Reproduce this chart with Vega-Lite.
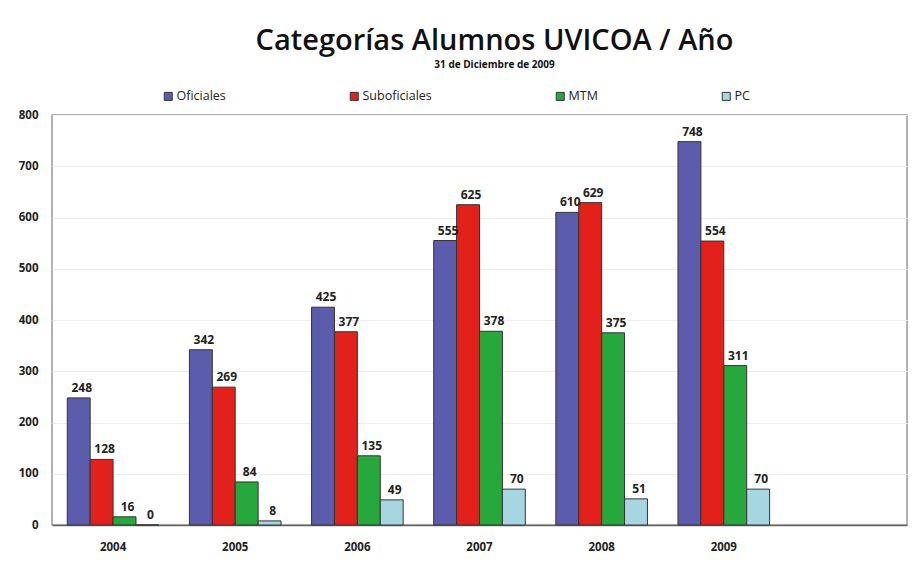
{
  "$schema": "https://vega.github.io/schema/vega-lite/v6.json",
  "width": 855,
  "height": 410,
  "autosize": {"type": "none"},
  "padding": {"left": 52, "top": 115, "right": 12, "bottom": 45},
  "background": "white",
  "title": {
    "text": "Categorías Alumnos UVICOA / Año",
    "subtitle": "31 de Diciembre de 2009",
    "anchor": "middle",
    "frame": "group",
    "dx": 15,
    "offset": 20,
    "font": "Open Sans",
    "fontSize": 29,
    "fontWeight": 600,
    "color": "#111",
    "subtitleFont": "Open Sans",
    "subtitleFontSize": 10,
    "subtitleFontWeight": "bold",
    "subtitleColor": "#111",
    "subtitlePadding": 4
  },
  "data": {
    "values": [
      {"year": "2004", "cat": "Oficiales", "v": 248},
      {"year": "2004", "cat": "Suboficiales", "v": 128},
      {"year": "2004", "cat": "MTM", "v": 16},
      {"year": "2004", "cat": "PC", "v": 0},
      {"year": "2005", "cat": "Oficiales", "v": 342},
      {"year": "2005", "cat": "Suboficiales", "v": 269},
      {"year": "2005", "cat": "MTM", "v": 84},
      {"year": "2005", "cat": "PC", "v": 8},
      {"year": "2006", "cat": "Oficiales", "v": 425},
      {"year": "2006", "cat": "Suboficiales", "v": 377},
      {"year": "2006", "cat": "MTM", "v": 135},
      {"year": "2006", "cat": "PC", "v": 49},
      {"year": "2007", "cat": "Oficiales", "v": 555},
      {"year": "2007", "cat": "Suboficiales", "v": 625},
      {"year": "2007", "cat": "MTM", "v": 378},
      {"year": "2007", "cat": "PC", "v": 70},
      {"year": "2008", "cat": "Oficiales", "v": 610},
      {"year": "2008", "cat": "Suboficiales", "v": 629},
      {"year": "2008", "cat": "MTM", "v": 375},
      {"year": "2008", "cat": "PC", "v": 51},
      {"year": "2009", "cat": "Oficiales", "v": 748},
      {"year": "2009", "cat": "Suboficiales", "v": 554},
      {"year": "2009", "cat": "MTM", "v": 311},
      {"year": "2009", "cat": "PC", "v": 70}
    ]
  },
  "encoding": {
    "x": {
      "field": "year",
      "type": "nominal",
      "title": null,
      "scale": {"domain": ["2004", "2005", "2006", "2007", "2008", "2009", " "], "paddingInner": 0.25, "paddingOuter": 0.125},
      "axis": {
        "labelAngle": 0,
        "labelFont": "Open Sans",
        "labelFontSize": 11.5,
        "labelFontWeight": "bold",
        "labelColor": "#222",
        "labelPadding": 16,
        "ticks": false,
        "domainColor": "#666",
        "domainWidth": 1.5
      }
    },
    "xOffset": {
      "field": "cat",
      "type": "nominal",
      "scale": {"domain": ["Oficiales", "Suboficiales", "MTM", "PC"], "paddingInner": 0, "paddingOuter": 0}
    },
    "y": {
      "field": "v",
      "type": "quantitative",
      "title": null,
      "scale": {"domain": [0, 800], "nice": false},
      "axis": {
        "values": [0, 100, 200, 300, 400, 500, 600, 700, 800],
        "labelFont": "Open Sans",
        "labelFontSize": 11.5,
        "labelFontWeight": "bold",
        "labelColor": "#222",
        "labelPadding": 14,
        "ticks": false,
        "domain": false,
        "gridColor": "#eeeeee"
      }
    }
  },
  "layer": [
    {
      "mark": {"type": "bar", "stroke": "#333", "strokeWidth": 1},
      "encoding": {
        "color": {
          "field": "cat",
          "type": "nominal",
          "scale": {"domain": ["Oficiales", "Suboficiales", "MTM", "PC"], "range": ["#5b5cac", "#e2201c", "#26a83c", "#a6d6df"]},
          "legend": {
            "title": null,
            "orient": "none",
            "legendX": 110,
            "legendY": -25,
            "direction": "horizontal",
            "columns": 4,
            "gridAlign": "each",
            "columnPadding": 122,
            "symbolType": "square",
            "symbolSize": 64,
            "symbolStrokeColor": "#333",
            "symbolStrokeWidth": 1,
            "symbolOffset": 0,
            "labelOffset": 2,
            "labelFont": "Open Sans",
            "labelFontSize": 12.5,
            "labelColor": "#222"
          }
        }
      }
    },
    {
      "mark": {"type": "text", "baseline": "bottom", "dy": -3, "dx": 3, "font": "Open Sans", "fontSize": 12, "fontWeight": "bold", "color": "#222"},
      "encoding": {"text": {"field": "v", "type": "quantitative"}}
    }
  ],
  "config": {
    "view": {"stroke": "#999", "strokeWidth": 1.5}
  }
}
